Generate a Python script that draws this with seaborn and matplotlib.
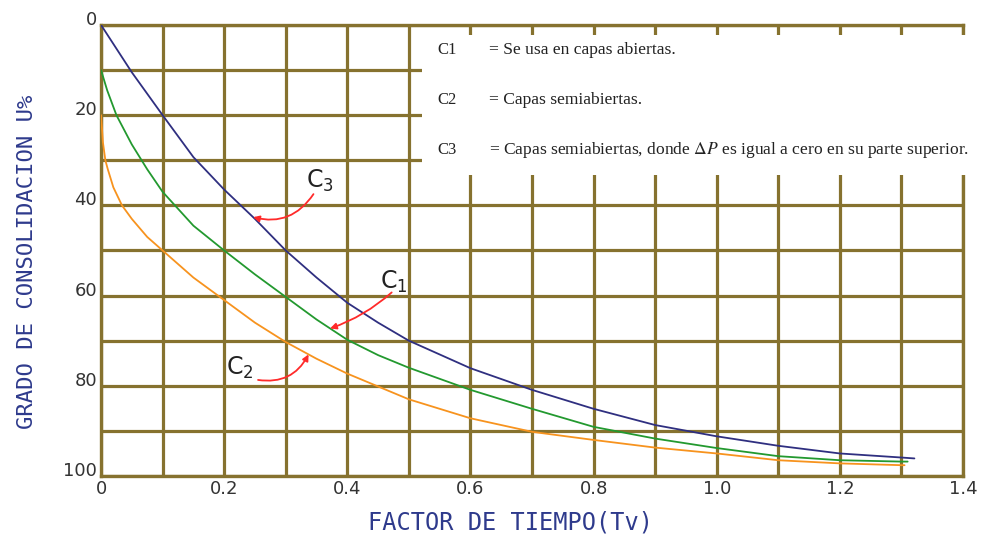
import matplotlib

matplotlib.use("Agg")
import matplotlib.pyplot as plt
import numpy as np
import pandas as pd
import seaborn as sns
from matplotlib.patches import Rectangle

# --- datos ----------------------------------------------------------------
# C3: capas semiabiertas con dP = 0 arriba (azul)
tv_c3 = [0, 0.05, 0.1, 0.15, 0.2, 0.25, 0.3, 0.35, 0.4, 0.45, 0.5, 0.6, 0.7,
         0.8, 0.9, 1.0, 1.1, 1.2, 1.3, 1.321]
u_c3 = [0, 10.5, 20, 29.3, 36.5, 43, 50, 56, 61.6, 66, 70, 76.1, 80.9,
        85.1, 88.7, 91.2, 93.3, 95, 95.9, 96.1]
# C1: capas abiertas (verde)
tv_c1 = [0, 0.01, 0.025, 0.05, 0.075, 0.1, 0.15, 0.2, 0.25, 0.3, 0.35, 0.4,
         0.45, 0.5, 0.6, 0.7, 0.8, 0.9, 1.0, 1.1, 1.2, 1.3, 1.31]
u_c1 = [10, 14.5, 20, 26.5, 32, 37, 44.5, 50, 55.3, 60.3, 65.3, 69.8,
        73.2, 76, 80.9, 85.1, 89.1, 91.7, 93.8, 95.6, 96.5, 96.8, 96.8]
# C2: capas semiabiertas (naranja)
tv_c2 = [0, 0.003, 0.007, 0.011, 0.02, 0.034, 0.05, 0.075, 0.1, 0.15, 0.2,
         0.25, 0.3, 0.35, 0.4, 0.5, 0.6, 0.7, 0.8, 0.9, 1.0, 1.1, 1.2, 1.3, 1.305]
u_c2 = [20, 26, 30, 32, 36, 40, 43, 47, 50, 56, 61,
        66, 70.3, 74, 77.3, 83, 87.2, 90.2, 92, 93.7, 95, 96.5, 97.2, 97.6, 97.6]

curvas = ["C3", "C1", "C2"]
x_ticks = [0, 0.2, 0.4, 0.6, 0.8, 1.0, 1.2, 1.4]
x_tick_labels = ["0", "0.2", "0.4", "0.6", "0.8", "1.0", "1.2", "1.4"]
y_ticks = [0, 20, 40, 60, 80, 100]
notas = [
    ("C1", "= Se usa en capas abiertas."),
    ("C2", "= Capas semiabiertas."),
    ("C3", r"= Capas semiabiertas, donde $\mathit{\Delta P}$ es igual a cero en su parte superior."),
]

# --- estilo ------------------------------------------------------------------
AZUL = "#2f2f80"
VERDE = "#23992f"
NARANJA = "#f7931e"
ROJO = "#ff2a2a"
REJILLA = "#86722f"
TITULO = "#2e3a8c"

sns.set_theme(style="white")
plt.rcParams["font.family"] = ["DejaVu Sans"]
plt.rcParams["mathtext.fontset"] = "stix"

df = pd.concat([
    pd.DataFrame({"Tv": tv_c3, "U": u_c3, "curva": "C3"}),
    pd.DataFrame({"Tv": tv_c1, "U": u_c1, "curva": "C1"}),
    pd.DataFrame({"Tv": tv_c2, "U": u_c2, "curva": "C2"}),
], ignore_index=True)

fig = plt.figure(figsize=(9.82, 5.36), dpi=100)
ax = fig.add_axes([0.1029, 0.1119, 0.8778, 0.8415])

sns.lineplot(data=df, x="Tv", y="U", hue="curva", hue_order=curvas,
             palette={"C3": AZUL, "C1": VERDE, "C2": NARANJA},
             estimator=None, sort=False, linewidth=1.3, legend=False, ax=ax, zorder=3)

ax.set_xlim(0, 1.4)
ax.set_ylim(100, 0)
ax.set_xticks(np.arange(0, 1.41, 0.1), minor=True)
ax.set_yticks(np.arange(0, 101, 10), minor=True)
ax.set_xticks(x_ticks)
ax.set_xticklabels(x_tick_labels)
ax.set_yticks(y_ticks)
ax.grid(which="both", color=REJILLA, linewidth=2.3, zorder=1)
ax.set_axisbelow(True)
for s in ax.spines.values():
    s.set_color(REJILLA)
    s.set_linewidth(2.4)
ax.tick_params(which="both", length=0, labelsize=13, labelcolor="#333333")
ax.tick_params(axis="x", pad=3)
ax.tick_params(axis="y", pad=3)
for lab in ax.get_yticklabels():
    lab.set_verticalalignment("baseline")

ax.set_xlabel("FACTOR DE TIEMPO(Tv)", family="DejaVu Sans Mono", fontsize=17,
              color=TITULO, va="center")
ax.set_ylabel("GRADO DE CONSOLIDACION U%", family="DejaVu Sans Mono", fontsize=16,
              color=TITULO, va="center")
ax.xaxis.set_label_coords(0.4745, -0.102)
ax.yaxis.set_label_coords(-0.086, 0.474)

# caja de notas
ax.add_patch(Rectangle((0.372, 0.667), 0.643, 0.311, transform=ax.transAxes,
                       facecolor="white", edgecolor="none", zorder=4, clip_on=False))
for i, (clave, texto) in enumerate(notas):
    yy = 0.9446 - i * 0.1109
    ax.text(0.39, yy, clave, transform=ax.transAxes, family="Liberation Serif",
            fontsize=12, color="#222222", va="center", zorder=5)
    ax.text(0.45, yy, texto, transform=ax.transAxes, family="Liberation Serif",
            fontsize=12.6, color="#222222", va="center", zorder=5, clip_on=False)

# etiquetas de curvas con flechas
etiquetas = [
    ("C$_3$", (0.356, 34.5), (0.345, 37.5), 0.247, tv_c3, u_c3, -0.35),
    ("C$_1$", (0.476, 57.0), (0.472, 59.3), 0.372, tv_c1, u_c1, -0.1),
    ("C$_2$", (0.225, 76.0), (0.255, 78.7), 0.337, tv_c2, u_c2, 0.35),
]
for txt, pos, cola, xt, xs, ys, rad in etiquetas:
    ax.text(pos[0], pos[1], txt, fontsize=17, color="#222222", ha="center",
            va="center", zorder=6, math_fontfamily="dejavusans")
    ax.annotate("", xy=(xt, np.interp(xt, xs, ys)), xytext=cola,
                arrowprops=dict(arrowstyle="-|>", color=ROJO, lw=1.3, mutation_scale=9,
                                shrinkA=0, shrinkB=0,
                                connectionstyle=f"arc3,rad={rad}"), zorder=6)

fig.savefig("out.png", dpi=100)
